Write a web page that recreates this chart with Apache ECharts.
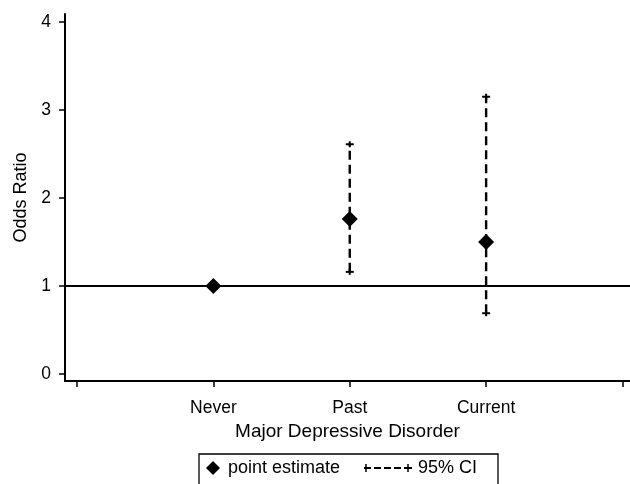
<!DOCTYPE html>
<html>
<head>
<meta charset="utf-8">
<script src="https://cdn.jsdelivr.net/npm/echarts@6/dist/echarts.min.js"></script>
<style>html,body{margin:0;padding:0;background:#fff}#c{width:630px;height:484px}</style>
</head>
<body>
<div id="c"></div>
<script>
const categories = ['Never', 'Past', 'Current'];
const categoryPositions = [1, 2, 3];
const pointEstimate = [1.00, 1.76, 1.50];
const ciLower = [null, 1.16, 0.69];
const ciUpper = [null, 2.61, 3.15];
const yTickValues = [0, 1, 2, 3, 4];
const xTickValues = [0, 1, 2, 3, 4];
const referenceValue = 1;
const legendLabels = ['point estimate', '95% CI'];

const FONT = '"Liberation Sans", Arial, Helvetica, sans-serif';
const chart = echarts.init(document.getElementById('c'), null, {renderer: 'canvas'});

const pointData = categoryPositions.map((x, i) => [x, pointEstimate[i]]);
const ciData = [];
categoryPositions.forEach((x, i) => {
  if (ciLower[i] != null) ciData.push([x, ciLower[i], ciUpper[i]]);
});

function renderCI(params, api) {
  const x = api.value(0);
  const lo = api.coord([x, api.value(1)]);
  const hi = api.coord([x, api.value(2)]);
  const cap = 4, stub = 3;
  const solid = {stroke: '#000', lineWidth: 2};
  return {
    type: 'group',
    children: [
      {type: 'line', shape: {x1: lo[0], y1: lo[1], x2: hi[0], y2: hi[1]},
       style: {stroke: '#000', lineWidth: 2.4, lineDash: [9, 5]}},
      {type: 'line', shape: {x1: hi[0] - cap, y1: hi[1], x2: hi[0] + cap, y2: hi[1]}, style: solid},
      {type: 'line', shape: {x1: hi[0], y1: hi[1] - stub, x2: hi[0], y2: hi[1] + stub}, style: solid},
      {type: 'line', shape: {x1: lo[0] - cap, y1: lo[1], x2: lo[0] + cap, y2: lo[1]}, style: solid},
      {type: 'line', shape: {x1: lo[0], y1: lo[1] - stub, x2: lo[0], y2: lo[1] + stub}, style: solid}
    ]
  };
}

const axisLineStyle = {color: '#000', width: 2};

chart.setOption({
  animation: false,
  backgroundColor: '#fff',
  grid: {left: 65, right: 0, top: 14, bottom: 103, containLabel: false},
  xAxis: {
    type: 'value',
    min: -0.088, max: 4.055,
    axisLine: {show: true, onZero: false, lineStyle: axisLineStyle},
    axisTick: {show: true, length: 6, lineStyle: {color: '#000', width: 1.5}, customValues: xTickValues},
    axisLabel: {
      customValues: categoryPositions,
      formatter: v => categories[categoryPositions.indexOf(Math.round(v))] || '',
      color: '#000', fontSize: 17.5, fontFamily: FONT, margin: 18
    },
    splitLine: {show: false},
    name: 'Major Depressive Disorder',
    nameLocation: 'middle', nameGap: 40,
    nameTextStyle: {color: '#000', fontSize: 19, fontFamily: FONT}
  },
  yAxis: {
    type: 'value',
    min: -0.08, max: 4.09,
    axisLine: {show: true, onZero: false, lineStyle: axisLineStyle},
    axisTick: {show: true, length: 6, lineStyle: {color: '#000', width: 1.5}, customValues: yTickValues},
    axisLabel: {customValues: yTickValues, color: '#000', fontSize: 17.5, fontFamily: FONT, margin: 14},
    splitLine: {show: false},
    name: 'Odds Ratio',
    nameLocation: 'middle', nameGap: 35,
    nameTextStyle: {color: '#000', fontSize: 18, fontFamily: FONT}
  },
  series: [
    {
      type: 'custom',
      name: legendLabels[1],
      renderItem: renderCI,
      data: ciData,
      encode: {x: 0, y: [1, 2]},
      z: 2
    },
    {
      type: 'scatter',
      name: legendLabels[0],
      data: pointData,
      symbol: 'diamond',
      symbolSize: 16,
      itemStyle: {color: '#000', opacity: 1},
      z: 3,
      markLine: {
        silent: true,
        symbol: 'none',
        label: {show: false},
        lineStyle: {color: '#000', width: 2, type: 'solid', opacity: 1},
        data: [{yAxis: referenceValue}]
      }
    }
  ],
  graphic: [
    {type: 'rect', shape: {x: 199, y: 454, width: 299, height: 40},
     style: {fill: '#fff', stroke: '#000', lineWidth: 1.3}},
    {type: 'polygon', shape: {points: [[213, 461], [220, 468], [213, 475], [206, 468]]}, style: {fill: '#000'}},
    {type: 'text', x: 228, y: 468, style: {text: legendLabels[0], fill: '#000', font: '18px ' + FONT, verticalAlign: 'middle'}},
    {type: 'line', shape: {x1: 364, y1: 468, x2: 410, y2: 468}, style: {stroke: '#000', lineWidth: 2, lineDash: [7, 3]}},
    {type: 'line', shape: {x1: 366, y1: 464, x2: 366, y2: 472}, style: {stroke: '#000', lineWidth: 1.5}},
    {type: 'line', shape: {x1: 408, y1: 464, x2: 408, y2: 472}, style: {stroke: '#000', lineWidth: 1.5}},
    {type: 'line', shape: {x1: 404, y1: 468, x2: 412, y2: 468}, style: {stroke: '#000', lineWidth: 2}},
    {type: 'text', x: 418, y: 468, style: {text: legendLabels[1], fill: '#000', font: '18px ' + FONT, verticalAlign: 'middle'}}
  ]
});
</script>
</body>
</html>
